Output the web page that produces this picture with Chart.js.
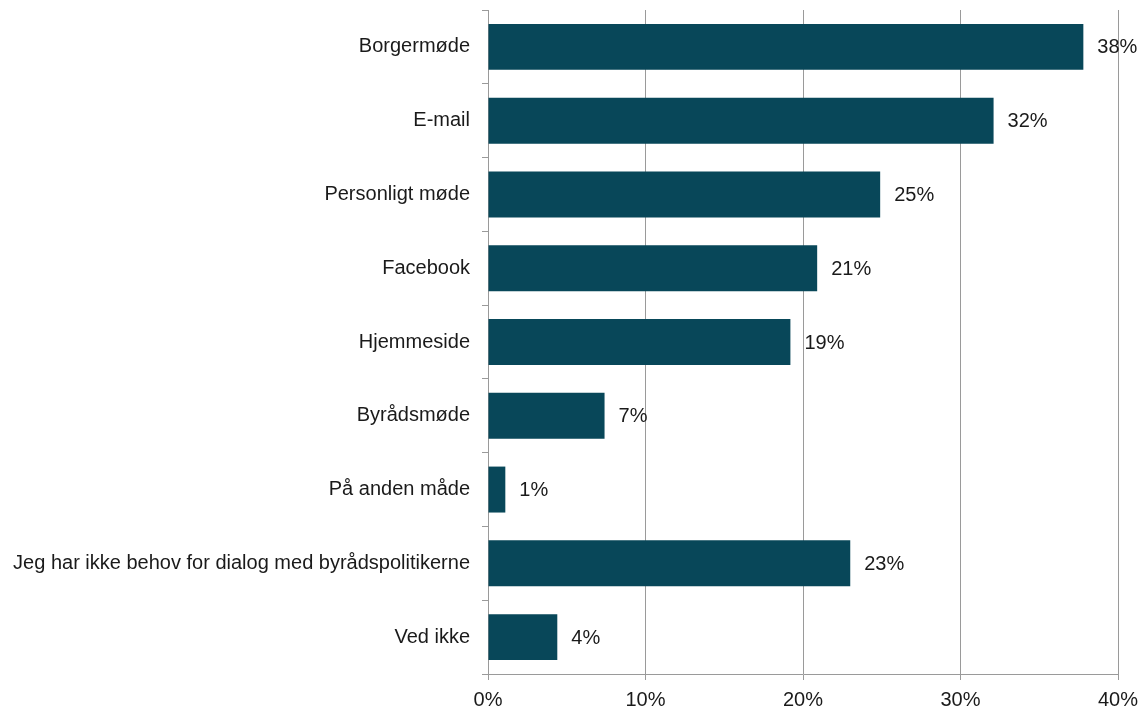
<!DOCTYPE html>
<html>
<head>
<meta charset="utf-8">
<script src="https://cdn.jsdelivr.net/npm/chart.js@4"></script>
<style>
  html, body { margin: 0; padding: 0; background: #fff; }
  #wrap { width: 1141px; height: 707px; }
</style>
</head>
<body>
<div id="wrap"><canvas id="dialogChart"></canvas></div>
<script>
const categories = [
    'Borgermøde',
    'E-mail',
    'Personligt møde',
    'Facebook',
    'Hjemmeside',
    'Byrådsmøde',
    'På anden måde',
    'Jeg har ikke behov for dialog med byrådspolitikerne',
    'Ved ikke'
];
const shares = [37.8, 32.1, 24.9, 20.9, 19.2, 7.4, 1.1, 23.0, 4.4];
const shareLabels = ['38%', '32%', '25%', '21%', '19%', '7%', '1%', '23%', '4%'];
const xTicks = [0, 10, 20, 30, 40];

const barColor = '#084759';
const gridColor = '#9a9a9a';
const textColor = '#1a1a1a';
const fontFamily = '"Liberation Sans", Arial, sans-serif';

// draw the percent text to the right of each bar
const valueLabels = {
    id: 'valueLabels',
    afterDatasetsDraw(chart) {
        const ctx = chart.ctx;
        const meta = chart.getDatasetMeta(0);
        ctx.save();
        ctx.font = '20px ' + fontFamily;
        ctx.fillStyle = textColor;
        ctx.textAlign = 'left';
        ctx.textBaseline = 'middle';
        meta.data.forEach((bar, i) => {
            ctx.fillText(shareLabels[i], bar.x + 14, bar.y + 1);
        });
        ctx.restore();
    }
};

new Chart(document.getElementById('dialogChart'), {
    type: 'bar',
    data: {
        labels: categories,
        datasets: [{
            data: shares,
            backgroundColor: barColor,
            borderWidth: 0,
            barPercentage: 0.623,
            categoryPercentage: 1
        }]
    },
    options: {
        indexAxis: 'y',
        responsive: true,
        maintainAspectRatio: false,
        animation: false,
        layout: {
            padding: { top: 10, right: 23, left: 0, bottom: 0 }
        },
        plugins: {
            legend: { display: false },
            tooltip: { enabled: false }
        },
        scales: {
            x: {
                min: 0,
                max: 40,
                afterBuildTicks: (scale) => {
                    scale.ticks = xTicks.map(v => ({ value: v }));
                },
                afterFit: (scale) => {
                    scale.height = 33;
                    scale.paddingLeft = 0;
                    scale.paddingRight = 0;
                },
                grid: {
                    color: gridColor,
                    lineWidth: 1,
                    tickLength: 6,
                    drawTicks: true
                },
                border: { color: gridColor, width: 1 },
                ticks: {
                    color: textColor,
                    font: { size: 20, family: fontFamily },
                    padding: 8,
                    callback: (v) => v + '%'
                }
            },
            y: {
                afterFit: (scale) => {
                    scale.width = 488;
                    scale.paddingTop = 0;
                    scale.paddingBottom = 0;
                },
                grid: {
                    offset: true,
                    drawOnChartArea: false,
                    drawTicks: true,
                    tickLength: 6,
                    color: gridColor
                },
                border: { color: gridColor, width: 1 },
                ticks: {
                    color: textColor,
                    font: { size: 20, family: fontFamily },
                    padding: 12
                }
            }
        }
    },
    plugins: [valueLabels]
});
</script>
</body>
</html>
